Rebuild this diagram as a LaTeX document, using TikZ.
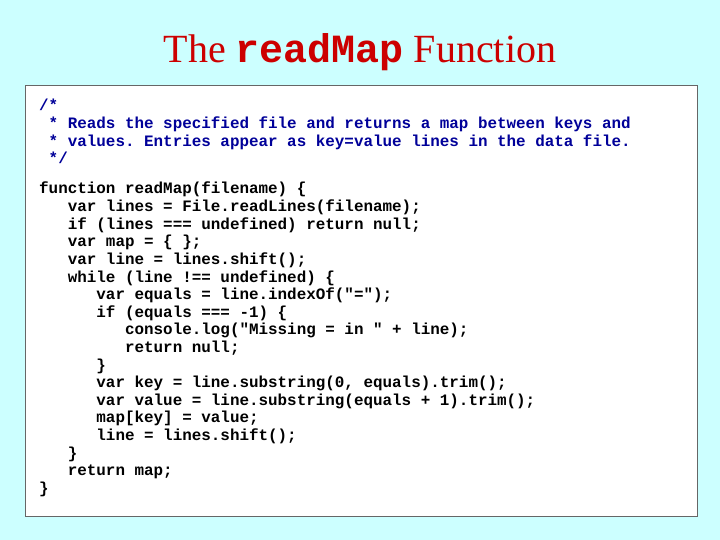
\documentclass[tikz,border=0pt]{standalone}
\usepackage{fontspec}
\setmainfont{Liberation Serif}
\setmonofont{Liberation Mono}
\definecolor{bgc}{RGB}{204,255,255}
\definecolor{cmt}{RGB}{0,0,153}
\definecolor{ttl}{RGB}{204,0,0}
\newcommand\myind[1]{\hspace*{#1\dimexpr0.6em\relax}}
\begin{document}
\begin{tikzpicture}[x=1pt,y=-1pt,
  code/.style={anchor=base west,inner sep=0pt,font=\fontsize{15.9}{17.6}\ttfamily\bfseries},
  cmtline/.style={code,text=cmt}]
\fill[bgc] (0,0) rectangle (720,540);
\useasboundingbox (0,0) rectangle (720,540);
\node[text=ttl,font=\fontsize{40}{44}\selectfont] (title) at (360,52) {The \texttt{\bfseries readMap} Function};
\node[draw=black!60,fill=white,line width=0.8pt,minimum width=672pt,minimum height=431pt,anchor=north west,inner sep=0pt] (box) at (25,85) {};
\foreach \t [count=\i from 0] in {{/*},{\myind{1}* Reads the specified file and returns a map between keys and},{\myind{1}* values. Entries appear as key=value lines in the data file.},{\myind{1}*/}}
  \node[cmtline] (c\i) at (39,111+17.6*\i) {\t};
\foreach \t [count=\i from 0] in {
 {function readMap(filename) \{},
 {\myind{3}var lines = File.readLines(filename);},
 {\myind{3}if (lines === undefined) return null;},
 {\myind{3}var map = \{ \};},
 {\myind{3}var line = lines.shift();},
 {\myind{3}while (line !== undefined) \{},
 {\myind{6}var equals = line.indexOf("=");},
 {\myind{6}if (equals === -1) \{},
 {\myind{9}console.log("Missing = in " + line);},
 {\myind{9}return null;},
 {\myind{6}\}},
 {\myind{6}var key = line.substring(0, equals).trim();},
 {\myind{6}var value = line.substring(equals + 1).trim();},
 {\myind{6}map[key] = value;},
 {\myind{6}line = lines.shift();},
 {\myind{3}\}},
 {\myind{3}return map;},
 {\}}}
  \node[code] (l\i) at (39,194+17.6*\i) {\t};
\end{tikzpicture}
\end{document}
